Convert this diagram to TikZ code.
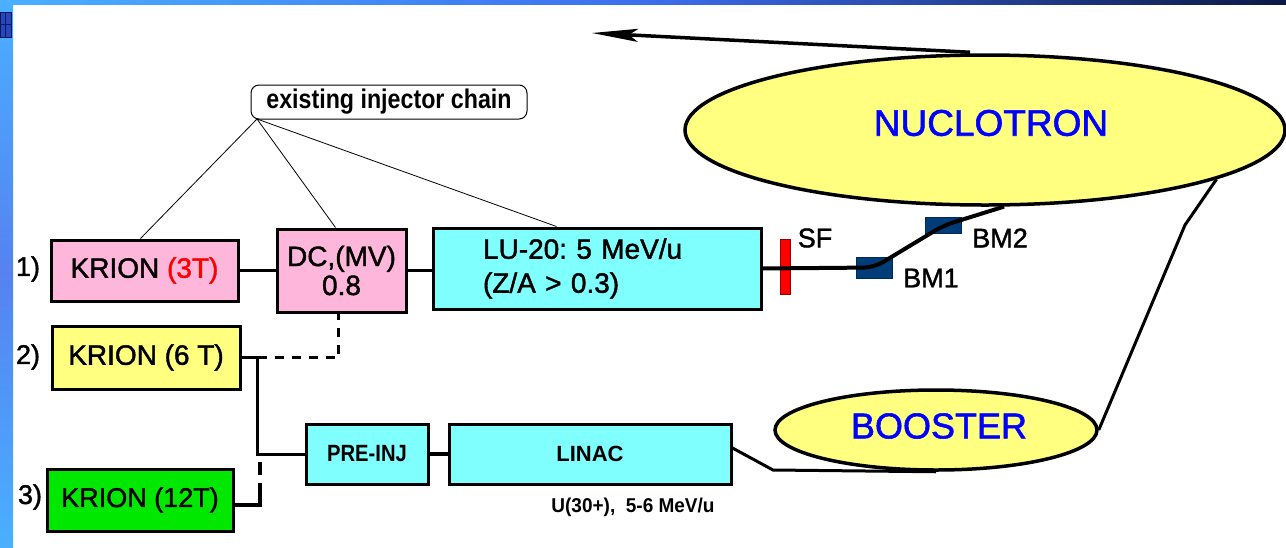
\documentclass[tikz,border=0pt]{standalone}
\usepackage{fontspec}
\setmainfont{Liberation Sans}
\newfontfamily\semib{Liberation Sans}[FakeBold=1.5]
\usetikzlibrary{arrows.meta,calc,shapes.geometric}
\definecolor{pinkc}{RGB}{255,182,219}
\definecolor{yelc}{RGB}{255,255,128}
\definecolor{greenc}{RGB}{0,232,0}
\definecolor{cyanc}{RGB}{128,255,255}
\definecolor{bmblue}{RGB}{0,60,120}
\definecolor{txtblue}{RGB}{0,0,255}
\definecolor{stripA}{RGB}{74,176,255}
\definecolor{stripB}{RGB}{60,110,240}
\definecolor{stripC}{RGB}{12,24,70}
\definecolor{sideM}{RGB}{85,130,240}
\definecolor{iconA}{RGB}{40,70,190}
\definecolor{iconB}{RGB}{10,25,90}
\frenchspacing
\begin{document}
\begin{tikzpicture}[x=1pt,y=-1pt,
  box/.style={draw=black,line width=3pt,inner sep=0pt,align=center},
  bigtxt/.style={font=\semib\fontsize{28}{32}\selectfont},
  labtxt/.style={font=\semib\fontsize{27}{30}\selectfont,inner sep=0pt},
  ring/.style={ellipse,draw=black,line width=3.5pt,fill=yelc,inner sep=0pt},
  ringtxt/.style={font=\semib\fontsize{37}{40}\selectfont,text=txtblue,inner sep=0pt},
  thinline/.style={line width=0.8pt},
  beam/.style={line width=3pt},
  thickbeam/.style={line width=4pt},
  magnet/.style={draw=bmblue!70!black,line width=0.6pt,fill=bmblue,inner sep=0pt}
]
\useasboundingbox (0,0) rectangle (1286,547);
\fill[white] (0,0) rectangle (1286,547);
% slide frame strips
\shade[left color=stripA,right color=stripC,middle color=stripB] (0,0) rectangle (1286,4);
\shade[top color=stripA,bottom color=stripA,middle color=sideM] (0,0) rectangle (13,547);
\fill[iconA] (0,12) rectangle (11,37);
\draw[iconB,line width=0.8pt] (0,12) rectangle (11,37) (0,24.5) -- (11,24.5) (5.5,12) -- (5.5,37);

% existing injector chain
\node[draw=black,line width=1pt,rounded corners=8pt,minimum width=276pt,minimum height=34pt,inner sep=0pt] (chain) at (389,102)
  {\scalebox{0.86}[1]{\fontsize{27}{30}\selectfont\bfseries existing injector chain}};
\coordinate (chroot) at (257,119);

% boxes
\node[box,fill=pinkc,minimum width=187pt,minimum height=61pt,bigtxt] (k3) at (144.5,270.5) {KRION \textcolor{red}{(3T)}};
\node[box,fill=pinkc,minimum width=129pt,minimum height=83pt,bigtxt] (dc) at (341.5,270.5) {DC,(MV)\\[-3pt]0.8};
\node[box,fill=cyanc,minimum width=328pt,minimum height=81pt,font=\semib\fontsize{28}{34}\selectfont,text width=228pt,align=left] (lu) at (597,268.5) {LU-20: 5 MeV/u\\(Z/A {>} 0.3)};
\node[box,fill=yelc,minimum width=188pt,minimum height=63pt,bigtxt] (k6) at (146,357.5) {KRION (6 T)};
\node[box,fill=greenc,minimum width=186pt,minimum height=62pt,font=\semib\fontsize{27}{30}\selectfont] (k12) at (140,500) {KRION (12T)};
\node[box,fill=cyanc,minimum width=122pt,minimum height=60pt] (pre) at (367,454)
  {\scalebox{0.86}[1]{\fontsize{23.5}{26}\selectfont\bfseries PRE-INJ}};
\node[box,fill=cyanc,minimum width=282pt,minimum height=60pt,font=\fontsize{22}{24}\selectfont\bfseries] (linac) at (590,454) {LINAC};
\node[inner sep=0pt] (ulabel) at (633,507) {\scalebox{0.95}[1]{\fontsize{20}{22}\selectfont\bfseries U(30+),\ \ 5-6 MeV/u}};

% numbering
\node[labtxt] (n1) at (28,269) {1)};
\node[labtxt] (n2) at (28,357) {2)};
\node[labtxt] (n3) at (30,497) {3)};

% rings
\node[ring,minimum width=600pt,minimum height=150pt] (nuc) at (985,130) {};
\node[ringtxt] (nuctxt) at (991,123) {NUCLOTRON};
\node[ring,minimum width=322pt,minimum height=80pt] (boo) at (936,430) {};
\node[ringtxt,font=\semib\fontsize{36}{40}\selectfont] (bootxt) at (939,426) {BOOSTER};

% arrow from nuclotron
\coordinate (tip) at (592,33);
\draw[line width=3.5pt,-{Stealth[length=46pt,width=13pt,inset=9pt]}] (nuc.north) ++(-15,-1) -- (tip);

% injector chain pointers
\draw[thinline] (chroot) -- ($(k3.north)+(-4,0)$);
\draw[thinline] (chroot) -- ($(dc.north)+(-6,0)$);
\draw[thinline] (chroot) -- ($(lu.north west)+(125,0)$);

% connectors of line 1
\draw[beam] (k3.east) -- (dc.west);
\draw[beam] (dc.east) -- (dc.east -| lu.west);

% SF and bending magnets
\node[draw=red!60!black,line width=0.6pt,fill=red,minimum width=10pt,minimum height=55pt,inner sep=0pt] (sf) at (785.5,266.5) {};
\node[labtxt] (sflab) at (815,238) {SF};
\node[magnet,minimum width=36pt,minimum height=21pt] (bm1) at (874,267.5) {};
\node[magnet,minimum width=36pt,minimum height=16pt] (bm2) at (943.5,225.5) {};
\node[labtxt] (bm1lab) at (931,278) {BM1};
\node[labtxt] (bm2lab) at (1000,238) {BM2};
\draw[thickbeam,rounded corners=10pt] (lu.east) -- (bm1.center) -- (bm2.center) -- (nuc.-76);

% line 2
\draw[beam] (k6.east) -- ++(16,0) coordinate (j6);
\draw[beam] (j6) |- (pre.west);
\draw[beam,dash pattern=on 9pt off 8pt] (j6) -| ($(dc.south)+(-3,0)$);

% line 3
\draw[thickbeam,dash pattern=on 47pt off 8pt on 14pt off 200pt] ($(k12.east)+(0,5)$) -- ++(25,0) -- ++(0,-43);
\draw[thickbeam] (pre.east) -- (linac.west);
\draw[beam] ($(linac.east)+(0,-6)$) -- (773,470) -- (boo.south);

% booster to nuclotron
\draw[beam] (boo.east) -- (1185,225) -- (nuc.-12);
\end{tikzpicture}
\end{document}
